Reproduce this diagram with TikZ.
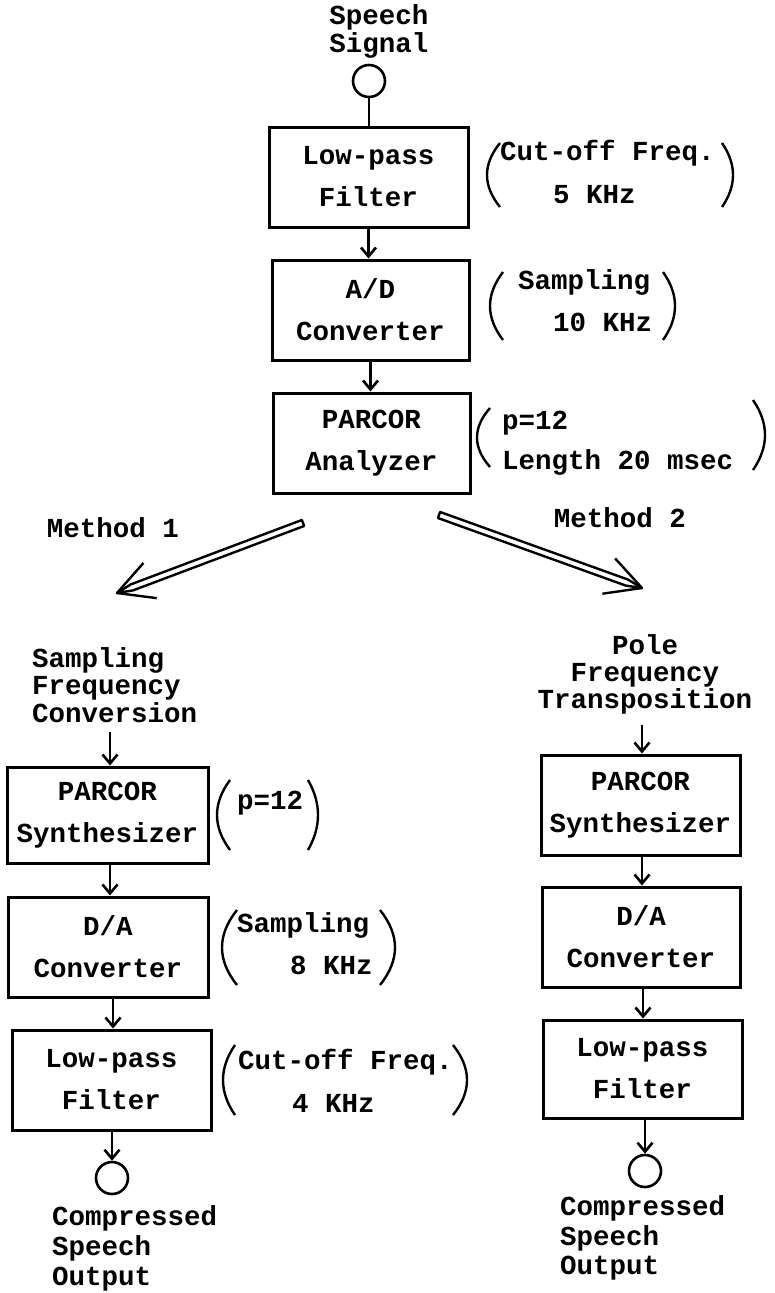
\documentclass[tikz,border=0pt]{standalone}
\usepackage{fontspec}
\setmainfont{Liberation Mono}
\usetikzlibrary{arrows.meta,calc}
\newcommand{\mylp}[4]{\draw[par] (#2,#3) .. controls ({#1-(#2-#1)/3},{#3+(#4-#3)/3}) and ({#1-(#2-#1)/3},{#4-(#4-#3)/3}) .. (#2,#4);}
\newcommand{\myrp}[4]{\draw[par] (#1,#3) .. controls ({#2+(#2-#1)/3},{#3+(#4-#3)/3}) and ({#2+(#2-#1)/3},{#4-(#4-#3)/3}) .. (#1,#4);}
\begin{document}
\begin{tikzpicture}[x=1pt,y=-1pt,
  every node/.style={font=\fontsize{27.5}{42}\selectfont\bfseries, inner sep=0pt},
  blk/.style={draw, line width=3pt, align=center, inner sep=0pt},
  lbl/.style={align=center},
  note/.style={anchor=west},
  flow/.style={line width=2.6pt, -{Straight Barb[length=9pt,width=15pt]}},
  port/.style={draw, circle, line width=2.6pt, minimum size=32pt, inner sep=0pt},
  par/.style={line width=2.4pt},
  dbl/.style={line width=2.4pt, line join=round},
]
\fill[white] (0,0) rectangle (774,1293);
\useasboundingbox (0,0) rectangle (774,1293);

% ---------- top chain ----------
\node[lbl, font=\fontsize{27.5}{28}\selectfont\bfseries] (sig) at (379,31) {Speech\\Signal};
\node[port] (in) at (369,81) {};
\node[blk, minimum width=199pt, minimum height=100pt] (lpf) at (368.5,177) {Low-pass\\Filter};
\draw[line width=2.6pt] (in.south) -- (in.south |- lpf.north);

\node[note] (n1a) at (500,153) {Cut-off Freq.};
\node[note] (n1b) at (553,195) {5 KHz};
\mylp{487}{500}{143}{207}
\myrp{722}{733}{143}{207}

\node[blk, minimum width=197pt, minimum height=100pt] (ad) at (370.5,310) {A/D\\Converter};
\draw[flow] (lpf.south) -- (lpf.south |- ad.north);

\node[note] (n2a) at (518,282) {Sampling};
\node[note] (n2b) at (553,322) {10 KHz};
\mylp{490}{503}{272}{340}
\myrp{663}{675}{272}{340}

\node[blk, minimum width=197pt, minimum height=100pt] (pa) at (371.5,443) {PARCOR\\Analyzer};
\draw[flow] (ad.south) -- (ad.south |- pa.north);

\node[note] (n3a) at (502,423) {p=12};
\node[note] (n3b) at (502,462) {Length 20 msec};
\mylp{477}{490}{408}{467}
\myrp{753}{765}{400}{470}

% ---------- methods ----------
\node (m1) at (113,528) {Method 1};
\node (m2) at (620,518) {Method 2};

% left double arrow
\coordinate (a1t) at (303,523);
\coordinate (a1h) at (117,593);
\coordinate (a1s) at ($(a1h)!16pt!(a1t)$);
\coordinate (a1t1) at ($(a1t)!3.2pt!90:(a1h)$);
\coordinate (a1t2) at ($(a1t)!3.2pt!-90:(a1h)$);
\coordinate (a1s1) at ($(a1s)!3.2pt!90:(a1h)$);
\coordinate (a1s2) at ($(a1s)!3.2pt!-90:(a1h)$);
\coordinate (a1b1) at ($(a1h)!40pt!28:(a1t)$);
\coordinate (a1b2) at ($(a1h)!40pt!-28:(a1t)$);
\draw[dbl] (a1t1) -- (a1s1) -- (a1h) -- (a1s2) -- (a1t2) -- cycle;
\draw[dbl] (a1b1) -- (a1h) -- (a1b2);

% right double arrow
\coordinate (a2t) at (439,515);
\coordinate (a2h) at (642,588);
\coordinate (a2s) at ($(a2h)!16pt!(a2t)$);
\coordinate (a2t1) at ($(a2t)!3.2pt!90:(a2h)$);
\coordinate (a2t2) at ($(a2t)!3.2pt!-90:(a2h)$);
\coordinate (a2s1) at ($(a2s)!3.2pt!90:(a2h)$);
\coordinate (a2s2) at ($(a2s)!3.2pt!-90:(a2h)$);
\coordinate (a2b1) at ($(a2h)!40pt!28:(a2t)$);
\coordinate (a2b2) at ($(a2h)!40pt!-28:(a2t)$);
\draw[dbl] (a2t1) -- (a2s1) -- (a2h) -- (a2s2) -- (a2t2) -- cycle;
\draw[dbl] (a2b1) -- (a2h) -- (a2b2);

% ---------- left column (method 1) ----------
\node[align=left, anchor=west, font=\fontsize{27.5}{27.5}\selectfont\bfseries] (sfc) at (32,685) {Sampling\\Frequency\\Conversion};
\node[blk, minimum width=201pt, minimum height=96pt] (syn1) at (107.5,815) {PARCOR\\Synthesizer};
\coordinate (syn1in) at (110,732);
\draw[flow] (syn1in) -- (syn1in |- syn1.north);

\node[note] (n4) at (237,803) {p=12};
\mylp{217}{230}{780}{850}
\myrp{308}{318}{780}{850}

\node[blk, minimum width=200pt, minimum height=100pt] (da1) at (108,947) {D/A\\Converter};
\draw[flow] (syn1in |- syn1.south) -- (syn1in |- da1.north);

\node[note] (n5a) at (237,925) {Sampling};
\node[note] (n5b) at (290,965) {8 KHz};
\mylp{222}{237}{910}{985}
\myrp{380}{395}{910}{985}

\node[blk, minimum width=199pt, minimum height=100pt] (lpf2) at (111.5,1080) {Low-pass\\Filter};
\draw[flow] (da1.south -| 113,0) -- (lpf2.north -| 113,0);

\node[note] (n6a) at (238,1062) {Cut-off Freq.};
\node[note] (n6b) at (292,1103) {4 KHz};
\mylp{223}{235}{1045}{1115}
\myrp{453}{467}{1045}{1115}

\node[port] (out1) at (112,1178) {};
\draw[flow] (lpf2.south -| out1) -- (out1.north);
\node[align=left, anchor=west, font=\fontsize{27.5}{30}\selectfont\bfseries] (o1) at (52,1248) {Compressed\\Speech\\Output};

% ---------- right column (method 2) ----------
\node[lbl, font=\fontsize{27.5}{27}\selectfont\bfseries] (pft) at (645,674) {Pole\\Frequency\\Transposition};
\node[blk, minimum width=199pt, minimum height=100pt] (syn2) at (640.5,805) {PARCOR\\Synthesizer};
\coordinate (syn2in) at (642,725);
\draw[flow] (syn2in) -- (syn2in |- syn2.north);

\node[blk, minimum width=198pt, minimum height=100pt] (da2) at (641,937) {D/A\\Converter};
\draw[flow] (syn2in |- syn2.south) -- (syn2in |- da2.north);

\node[blk, minimum width=199pt, minimum height=98pt] (lpf3) at (642.5,1069) {Low-pass\\Filter};
\draw[flow] (da2.south -| 643,0) -- (lpf3.north -| 643,0);

\node[port] (out2) at (645,1171) {};
\draw[flow] (lpf3.south -| out2) -- (out2.north);
\node[align=left, anchor=west, font=\fontsize{27.5}{29.5}\selectfont\bfseries] (o2) at (560,1238) {Compressed\\Speech\\Output};
\end{tikzpicture}
\end{document}
